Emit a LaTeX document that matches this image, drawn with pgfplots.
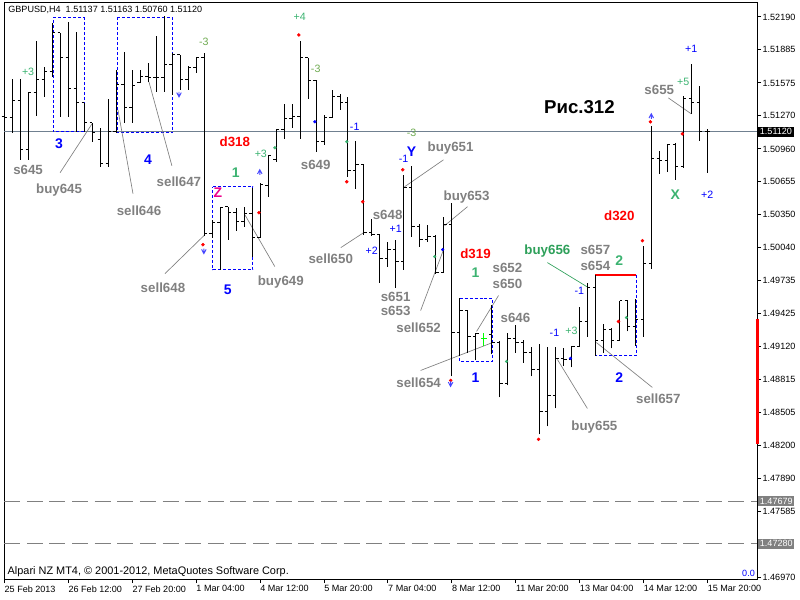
\documentclass[border=0pt]{standalone}
\usepackage{fontspec}
\setmainfont{Liberation Sans}
\usepackage{pgfplots}
\usepackage{pgfplotstable}
\pgfplotsset{compat=1.18}

\definecolor{lblgray}{RGB}{128,128,128}
\definecolor{numgreen}{RGB}{60,179,113}
\definecolor{olgreen}{RGB}{110,170,80}
\definecolor{bidline}{RGB}{112,128,144}
\definecolor{arrblue}{RGB}{70,70,255}
\definecolor{lbl656}{RGB}{46,160,90}

% open tick to the left, close tick to the right
\pgfdeclareplotmark{oleft}{\pgfpathmoveto{\pgfqpoint{-2.1pt}{0pt}}\pgfpathlineto{\pgfqpoint{0pt}{0pt}}\pgfusepathqstroke}
\pgfdeclareplotmark{cright}{\pgfpathmoveto{\pgfqpoint{0pt}{0pt}}\pgfpathlineto{\pgfqpoint{2.1pt}{0pt}}\pgfusepathqstroke}
\pgfdeclareplotmark{arrdown}{%
  \pgfpathmoveto{\pgfqpoint{-1.7pt}{1.7pt}}\pgfpathlineto{\pgfqpoint{0pt}{-1.5pt}}\pgfpathlineto{\pgfqpoint{1.7pt}{1.7pt}}%
  \pgfpathmoveto{\pgfqpoint{0pt}{-1.5pt}}\pgfpathlineto{\pgfqpoint{0pt}{2.3pt}}\pgfusepathqstroke}
\pgfdeclareplotmark{arrup}{%
  \pgfpathmoveto{\pgfqpoint{-1.7pt}{-1.7pt}}\pgfpathlineto{\pgfqpoint{0pt}{1.5pt}}\pgfpathlineto{\pgfqpoint{1.7pt}{-1.7pt}}%
  \pgfpathmoveto{\pgfqpoint{0pt}{1.5pt}}\pgfpathlineto{\pgfqpoint{0pt}{-2.3pt}}\pgfusepathqstroke}

% GBPUSD H4 bars: index, open, high, low, close
\pgfplotstableread{
k o h l c
0 1.51259 1.51343 1.51138 1.51250
1 1.51250 1.51613 1.51110 1.51408
2 1.51408 1.51613 1.50859 1.50952
3 1.50952 1.51492 1.50859 1.51483
4 1.51483 1.51966 1.51269 1.51604
5 1.51604 1.51725 1.51445 1.51678
6 1.51678 1.52134 1.51632 1.52041
7 1.52041 1.52041 1.51259 1.51808
8 1.51808 1.52143 1.51259 1.51520
9 1.51520 1.52050 1.51120 1.51390
10 1.51390 1.51390 1.51120 1.51203
11 1.51203 1.51203 1.51027 1.51110
12 1.51045 1.51157 1.50794 1.50822
13 1.50822 1.51427 1.50794 1.51120
14 1.51120 1.51697 1.51110 1.51557
15 1.51557 1.51864 1.51203 1.51343
16 1.51343 1.51697 1.51203 1.51548
17 1.51576 1.51697 1.51576 1.51632
18 1.51632 1.51762 1.51585 1.51622
19 1.51622 1.52013 1.51492 1.51622
20 1.51622 1.52199 1.51492 1.51743
21 1.51743 1.51855 1.51464 1.51836
22 1.51836 1.51836 1.51511 1.51604
23 1.51604 1.51734 1.51511 1.51715
24 1.51715 1.51818 1.51669 1.51808
25 1.51808 1.51855 1.50152 1.50171
26 1.50171 1.50301 1.50133 1.50273
27 1.50273 1.50413 1.49836 1.50413
28 1.50422 1.50422 1.50115 1.50366
29 1.50366 1.50413 1.50199 1.50282
30 1.50282 1.50422 1.50236 1.50357
31 1.50357 1.50599 1.49957 1.50133
32 1.50133 1.50645 1.50133 1.50627
33 1.50617 1.50906 1.50515 1.50896
34 1.50859 1.51148 1.50841 1.51138
35 1.51138 1.51380 1.51055 1.51241
36 1.51241 1.51380 1.51157 1.51259
37 1.51259 1.51966 1.51055 1.51808
38 1.51808 1.51808 1.51427 1.51594
39 1.51594 1.51604 1.50934 1.51027
40 1.51027 1.51278 1.50999 1.51250
41 1.51250 1.51511 1.51250 1.51445
42 1.51445 1.51473 1.51324 1.51390
43 1.51390 1.51445 1.50701 1.50757
44 1.50757 1.51036 1.50589 1.50813
45 1.50813 1.50813 1.50161 1.50180
46 1.50180 1.50310 1.50152 1.50161
47 1.50161 1.50171 1.49715 1.49938
48 1.49938 1.50096 1.49864 1.50022
49 1.50022 1.50115 1.49668 1.49910
50 1.49910 1.50720 1.49836 1.50599
51 1.50599 1.50803 1.50143 1.50236
52 1.50236 1.50264 1.50050 1.50115
53 1.50115 1.50254 1.50096 1.50143
54 1.50143 1.50161 1.49798 1.49808
55 1.49808 1.50329 1.49808 1.50254
56 1.50254 1.50459 1.48840 1.49249
57 1.49249 1.49575 1.49026 1.49454
58 1.49454 1.49454 1.49063 1.49212
59 1.49212 1.49249 1.48989 1.49240
61 1.49231 1.49510 1.49045 1.49156
62 1.49156 1.49166 1.48645 1.48775
63 1.48775 1.49249 1.48756 1.49194
64 1.49194 1.49315 1.49063 1.49156
65 1.49156 1.49184 1.48970 1.49063
66 1.49063 1.49110 1.48840 1.48905
67 1.48905 1.49147 1.48300 1.48514
68 1.48514 1.49110 1.48375 1.48663
69 1.48663 1.49119 1.48542 1.49008
70 1.49008 1.49101 1.48942 1.48998
71 1.48998 1.49128 1.48924 1.49119
72 1.49119 1.49491 1.49119 1.49352
73 1.49352 1.49715 1.49212 1.49668
74 1.49668 1.49789 1.49035 1.49175
75 1.49175 1.49333 1.49063 1.49277
76 1.49277 1.49287 1.49101 1.49175
77 1.49175 1.49547 1.49175 1.49547
78 1.49547 1.49547 1.49259 1.49305
79 1.49305 1.49566 1.49128 1.49370
80 1.49370 1.50059 1.49212 1.49891
81 1.49891 1.51176 1.49845 1.50869
82 1.50869 1.50943 1.50729 1.50850
83 1.50850 1.51008 1.50748 1.50999
84 1.50999 1.51017 1.50673 1.50794
85 1.50794 1.51455 1.50785 1.51427
86 1.51427 1.51752 1.51287 1.51390
87 1.51390 1.51548 1.51036 1.51120
88 1.51120 1.51148 1.50738 1.51120
}\ohlc

% the one bar drawn in green
\pgfplotstableread{
k o h l c
60 1.49194 1.49249 1.49128 1.49194
}\greenbar

\begin{document}
\begin{tikzpicture}[
  gl/.style={font=\fontsize{10}{12}\selectfont\bfseries, text=lblgray, inner sep=0pt},
  rl/.style={font=\fontsize{10}{12}\selectfont\bfseries, text=red, inner sep=0pt},
  gn/.style={font=\fontsize{10.5}{12}\selectfont\bfseries, text=numgreen, inner sep=0pt},
  bn/.style={font=\fontsize{10.5}{12}\selectfont\bfseries, text=blue, inner sep=0pt},
  sg/.style={font=\fontsize{8}{9}\selectfont, text=numgreen, inner sep=0pt},
  so/.style={font=\fontsize{8}{9}\selectfont, text=olgreen, inner sep=0pt},
  sb/.style={font=\fontsize{8}{9}\selectfont, text=blue, inner sep=0pt},
  px/.style={font=\fontsize{6.8}{8}\selectfont, inner sep=1.2pt},
]
\begin{axis}[
    width=565.5pt, height=432.75pt, scale only axis,
    xmin=-0.04, xmax=94.2,
    ymin=1.46951, ymax=1.52320,
    clip=false,
    axis line style={black, line width=0.75pt},
    tick style={black, line width=0.75pt},
    tick align=outside,
    major tick length=3pt,
    xtick={0,8,...,88},
    xticklabels={25 Feb 2013, 26 Feb 12:00, 27 Feb 20:00, 1 Mar 04:00, 4 Mar 12:00, 5 Mar 20:00, 7 Mar 04:00, 8 Mar 12:00, 11 Mar 20:00, 13 Mar 04:00, 14 Mar 12:00, 15 Mar 20:00},
    xtick pos=bottom,
    x tick label style={anchor=north west, font=\fontsize{6.8}{8}\selectfont, inner sep=0pt, yshift=-1.5pt},
    ytick={1.52190,1.51885,1.51575,1.51270,1.50960,1.50655,1.50350,1.50040,1.49735,1.49425,1.49120,1.48815,1.48505,1.48200,1.47890,1.47585,1.47280,1.46970},
    yticklabels={1.52190,1.51885,1.51575,1.51270,1.50960,1.50655,1.50350,1.50040,1.49735,1.49425,1.49120,1.48815,1.48505,1.48200,1.47890,1.47585,{},1.46970},
    ytick pos=right, yticklabel pos=right,
    y tick label style={anchor=west, font=\fontsize{6.8}{8}\selectfont, inner sep=0pt, xshift=1pt},
]
% bid line and the two dashed levels
\addplot[bidline, line width=0.75pt] coordinates {(-0.04,1.51120) (94.2,1.51120)};
\addplot[lblgray, line width=0.75pt, dash pattern=on 12pt off 5pt] coordinates {(-0.04,1.47679) (94.2,1.47679)};
\addplot[lblgray, line width=0.75pt, dash pattern=on 12pt off 5pt] coordinates {(-0.04,1.47280) (94.2,1.47280)};

% dashed boxes
\addplot[blue, line width=0.75pt, dash pattern=on 2.25pt off 1.5pt] coordinates {(6.09,1.52181) (9.96,1.52181) (9.96,1.51120) (6.09,1.51120) (6.09,1.52181)};
\addplot[blue, line width=0.75pt, dash pattern=on 2.25pt off 1.5pt] coordinates {(14.09,1.52181) (21.09,1.52181) (21.09,1.51110) (14.09,1.51110) (14.09,1.52181)};
\addplot[blue, line width=0.75pt, dash pattern=on 2.25pt off 1.5pt] coordinates {(26.09,1.50608) (31.09,1.50608) (31.09,1.49836) (26.09,1.49836) (26.09,1.50608)};
\addplot[blue, line width=0.75pt, dash pattern=on 2.25pt off 1.5pt] coordinates {(56.96,1.49566) (61.09,1.49566) (61.09,1.48980) (56.96,1.48980) (56.96,1.49566)};
\addplot[blue, line width=0.75pt, dash pattern=on 2.25pt off 1.5pt] coordinates {(79.09,1.49789) (79.09,1.49035) (73.96,1.49035) (73.96,1.49789)};
\addplot[red, line width=1.6pt] coordinates {(73.96,1.49789) (79.09,1.49789)};

% connector lines
\addplot[lblgray, line width=0.5pt] coordinates {(6.96,1.50738) (10.96,1.51194)};
\addplot[lblgray, line width=0.5pt] coordinates {(14.21,1.51324) (16.09,1.50543)};
\addplot[lblgray, line width=0.5pt] coordinates {(18.09,1.51585) (20.96,1.50803)};
\addplot[lblgray, line width=0.5pt] coordinates {(20.09,1.49798) (25.09,1.50161)};
\addplot[lblgray, line width=0.5pt] coordinates {(30.09,1.50347) (33.84,1.49864)};
\addplot[lblgray, line width=0.5pt] coordinates {(42.09,1.50040) (44.96,1.50180)};
\addplot[lblgray, line width=0.5pt] coordinates {(54.96,1.50859) (50.09,1.50608)};
\addplot[lblgray, line width=0.5pt] coordinates {(57.96,1.50422) (55.09,1.50245)};
\addplot[lblgray, line width=0.5pt] coordinates {(52.09,1.49454) (54.96,1.50022)};
\addplot[lblgray, line width=0.5pt] coordinates {(52.09,1.48896) (61.09,1.49156)};
\addplot[lblgray, line width=0.5pt] coordinates {(61.84,1.49594) (59.09,1.49259)};
\addplot[lbl656, line width=0.5pt] coordinates {(67.96,1.49901) (73.09,1.49668)};
\addplot[lblgray, line width=0.5pt] coordinates {(74.09,1.49156) (81.09,1.48738)};
\addplot[lblgray, line width=0.5pt] coordinates {(69.21,1.48998) (72.96,1.48542)};
\addplot[lblgray, line width=0.5pt] coordinates {(83.09,1.51436) (85.96,1.51287)};

% OHLC bars
\addplot[draw=none, mark=none, error bars/.cd, y dir=plus, y explicit, error mark=none,
  error bar style={draw=black, solid, line width=0.75pt}]
  table[x=k, y=l, y error expr=\thisrow{h}-\thisrow{l}] {\ohlc};
\addplot[black, only marks, mark=oleft, mark options={line width=0.75pt}] table[x=k, y=o] {\ohlc};
\addplot[black, only marks, mark=cright, mark options={line width=0.75pt}] table[x=k, y=c] {\ohlc};
\addplot[draw=none, mark=none, error bars/.cd, y dir=plus, y explicit, error mark=none,
  error bar style={draw=green, solid, line width=0.75pt}]
  table[x=k, y=l, y error expr=\thisrow{h}-\thisrow{l}] {\greenbar};
\addplot[green, only marks, mark=oleft, mark options={line width=0.75pt}] table[x=k, y=o] {\greenbar};
\addplot[green, only marks, mark=cright, mark options={line width=0.75pt}] table[x=k, y=c] {\greenbar};

% dots
\addplot[red, only marks, mark=*, mark size=1.1pt] coordinates {(36.85,1.52022) (42.85,1.50654) (44.85,1.50468) (49.85,1.50766) (24.85,1.50068) (31.85,1.50366) (55.85,1.48803) (66.85,1.48254) (76.85,1.49352) (79.85,1.50105) (80.85,1.51213) (84.85,1.51101)};
\addplot[numgreen, only marks, mark=*, mark size=1pt] coordinates {(42.85,1.51027) (53.85,1.49957) (62.85,1.48980) (77.85,1.49389) (33.85,1.50971)};
\addplot[blue, only marks, mark=*, mark size=1pt] coordinates {(38.85,1.51213) (54.85,1.50022) (70.85,1.49008)};

% arrows
\addplot[arrblue, only marks, mark=arrdown, mark options={line width=0.7pt}] coordinates {(21.85,1.51464) (24.96,1.50003) (55.84,1.48766)};
\addplot[arrblue, only marks, mark=arrup, mark options={line width=0.7pt}] coordinates {(31.96,1.50748) (80.96,1.51269)};

% red bar on the price scale
\addplot[red, line width=2.25pt] coordinates {(94.2,1.49380) (94.2,1.48207)};

% gray labels
\node[gl] at (axis cs:2.96,1.50766) {s645};
\node[gl] at (axis cs:6.84,1.50580) {buy645};
\node[gl] at (axis cs:16.84,1.50385) {sell646};
\node[gl] at (axis cs:21.84,1.50654) {sell647};
\node[gl] at (axis cs:19.84,1.49668) {sell648};
\node[gl] at (axis cs:34.59,1.49724) {buy649};
\node[gl] at (axis cs:38.96,1.50813) {s649};
\node[gl] at (axis cs:40.84,1.49938) {sell650};
\node[gl] at (axis cs:47.96,1.50347) {s648};
\node[gl] at (axis cs:55.84,1.50971) {buy651};
\node[gl] at (axis cs:57.84,1.50515) {buy653};
\node[gl] at (axis cs:48.96,1.49584) {s651};
\node[gl] at (axis cs:48.96,1.49454) {s653};
\node[gl] at (axis cs:51.84,1.49296) {sell652};
\node[gl] at (axis cs:51.84,1.48784) {sell654};
\node[gl] at (axis cs:62.96,1.49854) {s652};
\node[gl] at (axis cs:62.96,1.49705) {s650};
\node[gl] at (axis cs:63.96,1.49389) {s646};
\node[gl, text=lbl656] at (axis cs:67.96,1.50012) {buy656};
\node[gl] at (axis cs:73.96,1.50022) {s657};
\node[gl] at (axis cs:73.96,1.49873) {s654};
\node[gl] at (axis cs:81.84,1.48635) {sell657};
\node[gl] at (axis cs:73.84,1.48365) {buy655};
\node[gl] at (axis cs:81.96,1.51511) {s655};

% red d-labels
\node[rl] at (axis cs:28.84,1.51027) {d318};
\node[rl] at (axis cs:58.96,1.49985) {d319};
\node[rl] at (axis cs:76.96,1.50338) {d320};

% bold numbers and letters
\node[gn] at (axis cs:28.96,1.50738) {1};
\node[gn] at (axis cs:58.96,1.49808) {1};
\node[gn] at (axis cs:76.96,1.49919) {2};
\node[gn] at (axis cs:83.96,1.50534) {X};
\node[bn] at (axis cs:6.84,1.51008) {3};
\node[bn] at (axis cs:17.96,1.50859) {4};
\node[bn] at (axis cs:27.96,1.49650) {5};
\node[bn] at (axis cs:58.96,1.48831) {1};
\node[bn] at (axis cs:76.96,1.48831) {2};
\node[bn] at (axis cs:50.96,1.50934) {Y};
\node[bn, text=magenta] at (axis cs:26.71,1.50552) {Z};

% small counts
\node[sg] at (axis cs:2.96,1.51678) {+3};
\node[so] at (axis cs:24.96,1.51957) {-3};
\node[sg] at (axis cs:32.09,1.50915) {+3};
\node[sg] at (axis cs:36.96,1.52190) {+4};
\node[so] at (axis cs:38.96,1.51706) {-3};
\node[sb] at (axis cs:43.84,1.51166) {-1};
\node[so] at (axis cs:50.96,1.51110) {-3};
\node[sb] at (axis cs:49.96,1.50869) {-1};
\node[sb] at (axis cs:48.96,1.50217) {+1};
\node[sb] at (axis cs:45.96,1.50012) {+2};
\node[sb] at (axis cs:71.96,1.49640) {-1};
\node[sb] at (axis cs:68.84,1.49249) {-1};
\node[sg] at (axis cs:70.96,1.49268) {+3};
\node[sb] at (axis cs:85.96,1.51892) {+1};
\node[sg] at (axis cs:84.96,1.51585) {+5};
\node[sb] at (axis cs:87.96,1.50534) {+2};

% title of the figure
\node[font=\fontsize{14}{16}\selectfont\bfseries, inner sep=0pt] at (axis cs:71.96,1.51352) {Рис.312};

% header, footer and corner
\node[px, anchor=north west, inner sep=0pt] at ([xshift=3pt, yshift=-2pt]rel axis cs:0,1) {GBPUSD,H4\ \ 1.51137 1.51163 1.50760 1.51120};
\node[font=\fontsize{8.2}{9}\selectfont, anchor=south west, inner sep=0pt] at ([xshift=2.5pt, yshift=1.5pt]rel axis cs:0,0) {Alpari NZ MT4, © 2001-2012, MetaQuotes Software Corp.};
\node[px, anchor=south east, inner sep=0pt, text=blue] at ([xshift=-1.5pt, yshift=1.5pt]rel axis cs:1,0) {0.0};

\coordinate (bid) at (axis cs:0,1.51120);
\coordinate (lv1) at (axis cs:0,1.47679);
\coordinate (lv2) at (axis cs:0,1.47280);
\end{axis}
% price boxes on the scale
\node[px, fill=black, text=white, anchor=west] at ([xshift=0.75pt]current axis.east|-bid) {1.51120};
\node[px, fill=lblgray, text=white, anchor=west] at ([xshift=0.75pt]current axis.east|-lv1) {1.47679};
\node[px, fill=lblgray, text=white, anchor=west] at ([xshift=0.75pt]current axis.east|-lv2) {1.47280};
% picture size
\path ([shift={(-2.25pt,-15pt)}]current axis.south west) rectangle ([shift={(32.25pt,2.25pt)}]current axis.north east);
\end{tikzpicture}
\end{document}
